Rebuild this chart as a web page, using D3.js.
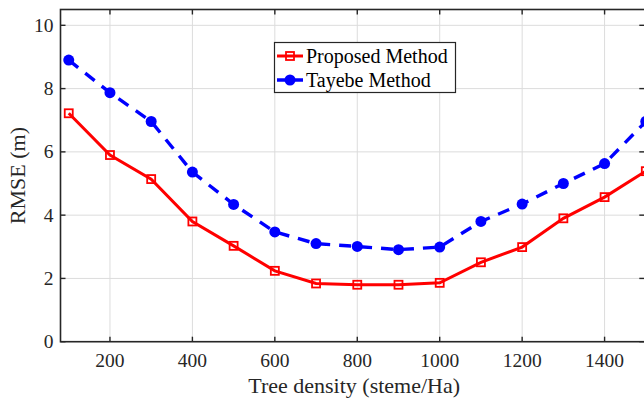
<!DOCTYPE html>
<html>
<head>
<meta charset="utf-8">
<script src="https://cdn.jsdelivr.net/npm/d3@7"></script>
<style>
  body { margin: 0; background: #fff; }
  text { font-family: "Liberation Serif", "Times New Roman", serif; fill: #262626; }
</style>
</head>
<body>
<script>
// dims
const width = 644, height = 401;
const margin = {left: 60.5, right: -1.8, top: 9.5, bottom: 59.3};

// data
const density = [100, 200, 300, 400, 500, 600, 700, 800, 900, 1000, 1100, 1200, 1300, 1400, 1500];
const proposed = [7.22, 5.9, 5.14, 3.8, 3.03, 2.24, 1.84, 1.8, 1.8, 1.86, 2.51, 2.99, 3.9, 4.57, 5.39];
const tayebe = [8.9, 7.87, 6.96, 5.36, 4.34, 3.47, 3.1, 3.01, 2.91, 2.99, 3.8, 4.35, 5.0, 5.63, 6.96];
const xTicks = [200, 400, 600, 800, 1000, 1200, 1400];
const yTicks = [0, 2, 4, 6, 8, 10];
const seriesNames = ['Proposed Method', 'Tayebe Method'];

const svg = d3.select('body').append('svg')
  .attr('width', width)
  .attr('height', height);

const x = d3.scaleLinear().domain([80, 1500]).range([margin.left, width - margin.right]);
const y = d3.scaleLinear().domain([0, 10.5]).range([height - margin.bottom, margin.top]);

const x0 = x.range()[0], x1 = x.range()[1], y0 = y.range()[0], y1 = y.range()[1];

// grid
const grid = svg.append('g').attr('stroke', '#dcdcdc').attr('stroke-width', 1);
grid.selectAll('.gx').data(xTicks).enter().append('line')
  .attr('x1', d => x(d)).attr('x2', d => x(d)).attr('y1', y0).attr('y2', y1);
grid.selectAll('.gy').data(yTicks).enter().append('line')
  .attr('y1', d => y(d)).attr('y2', d => y(d)).attr('x1', x0).attr('x2', x1);

// axes (box, ticks inside)
const axisColor = '#262626';
const axes = svg.append('g');
axes.append('rect')
  .attr('x', x0).attr('y', y1).attr('width', x1 - x0).attr('height', y0 - y1)
  .attr('fill', 'none').attr('stroke', axisColor).attr('stroke-width', 1.6);
const tk = 5;
axes.selectAll('.txb').data(xTicks).enter().append('line')
  .attr('x1', d => x(d)).attr('x2', d => x(d)).attr('y1', y0).attr('y2', y0 - tk)
  .attr('stroke', axisColor).attr('stroke-width', 1.4);
axes.selectAll('.txt').data(xTicks).enter().append('line')
  .attr('x1', d => x(d)).attr('x2', d => x(d)).attr('y1', y1).attr('y2', y1 + tk)
  .attr('stroke', axisColor).attr('stroke-width', 1.4);
axes.selectAll('.tyl').data(yTicks).enter().append('line')
  .attr('y1', d => y(d)).attr('y2', d => y(d)).attr('x1', x0).attr('x2', x0 + tk)
  .attr('stroke', axisColor).attr('stroke-width', 1.4);
axes.selectAll('.tyr').data(yTicks).enter().append('line')
  .attr('y1', d => y(d)).attr('y2', d => y(d)).attr('x1', x1).attr('x2', x1 - tk - 1.5)
  .attr('stroke', axisColor).attr('stroke-width', 1.4);

// tick labels
axes.selectAll('.lx').data(xTicks).enter().append('text')
  .attr('x', d => x(d)).attr('y', y0 + 25)
  .attr('text-anchor', 'middle').attr('font-size', 19.5)
  .text(d => d);
axes.selectAll('.ly').data(yTicks).enter().append('text')
  .attr('x', x0 - 7).attr('y', d => y(d) + 6.5)
  .attr('text-anchor', 'end').attr('font-size', 19.5)
  .text(d => d);

// axis titles
svg.append('text')
  .attr('x', (x0 + x1) / 2 + 1).attr('y', 393)
  .attr('text-anchor', 'middle').attr('font-size', 22)
  .text('Tree density (steme/Ha)');
svg.append('text')
  .attr('transform', `translate(25,${(y0 + y1) / 2}) rotate(-90)`)
  .attr('text-anchor', 'middle').attr('font-size', 22)
  .text('RMSE (m)');

// lines
const line = d3.line().x(d => x(d[0])).y(d => y(d[1]));
const redData = density.map((d, i) => [d, proposed[i]]);
const blueData = density.map((d, i) => [d, tayebe[i]]);

const plot = svg.append('g');
plot.append('path').datum(blueData)
  .attr('d', line).attr('fill', 'none')
  .attr('stroke', '#0000ff').attr('stroke-width', 3.4)
  .attr('stroke-dasharray', '12,9');
plot.selectAll('.bm').data(blueData).enter().append('circle')
  .attr('cx', d => x(d[0])).attr('cy', d => y(d[1])).attr('r', 5.5)
  .attr('fill', '#0000ff');

plot.append('path').datum(redData)
  .attr('d', line).attr('fill', 'none')
  .attr('stroke', '#ff0000').attr('stroke-width', 3);
plot.selectAll('.rm').data(redData).enter().append('rect')
  .attr('x', d => x(d[0]) - 4).attr('y', d => y(d[1]) - 4)
  .attr('width', 8).attr('height', 8)
  .attr('fill', 'none').attr('stroke', '#ff0000').attr('stroke-width', 1.8);

// legend
const legend = svg.append('g');
legend.append('rect')
  .attr('x', 274.5).attr('y', 42.5).attr('width', 181).attr('height', 50)
  .attr('fill', '#fff').attr('stroke', axisColor).attr('stroke-width', 1.2);
const legRows = [
  {name: seriesNames[0], color: '#ff0000', cy: 56},
  {name: seriesNames[1], color: '#0000ff', cy: 80}
];
legRows.forEach((r, i) => {
  legend.append('line')
    .attr('x1', 277).attr('x2', 303).attr('y1', r.cy).attr('y2', r.cy)
    .attr('stroke', r.color).attr('stroke-width', i === 0 ? 3 : 3.4)
    .attr('stroke-dasharray', i === 0 ? null : '9,8');
  if (i === 0) {
    legend.append('rect').attr('x', 286).attr('y', r.cy - 4).attr('width', 8).attr('height', 8)
      .attr('fill', 'none').attr('stroke', r.color).attr('stroke-width', 1.8);
  } else {
    legend.append('circle').attr('cx', 290).attr('cy', r.cy).attr('r', 5.5).attr('fill', r.color);
  }
  legend.append('text')
    .attr('x', 306).attr('y', r.cy + 6.5).attr('font-size', 20)
    .style('fill', '#000')
    .text(r.name);
});
</script>
</body>
</html>
